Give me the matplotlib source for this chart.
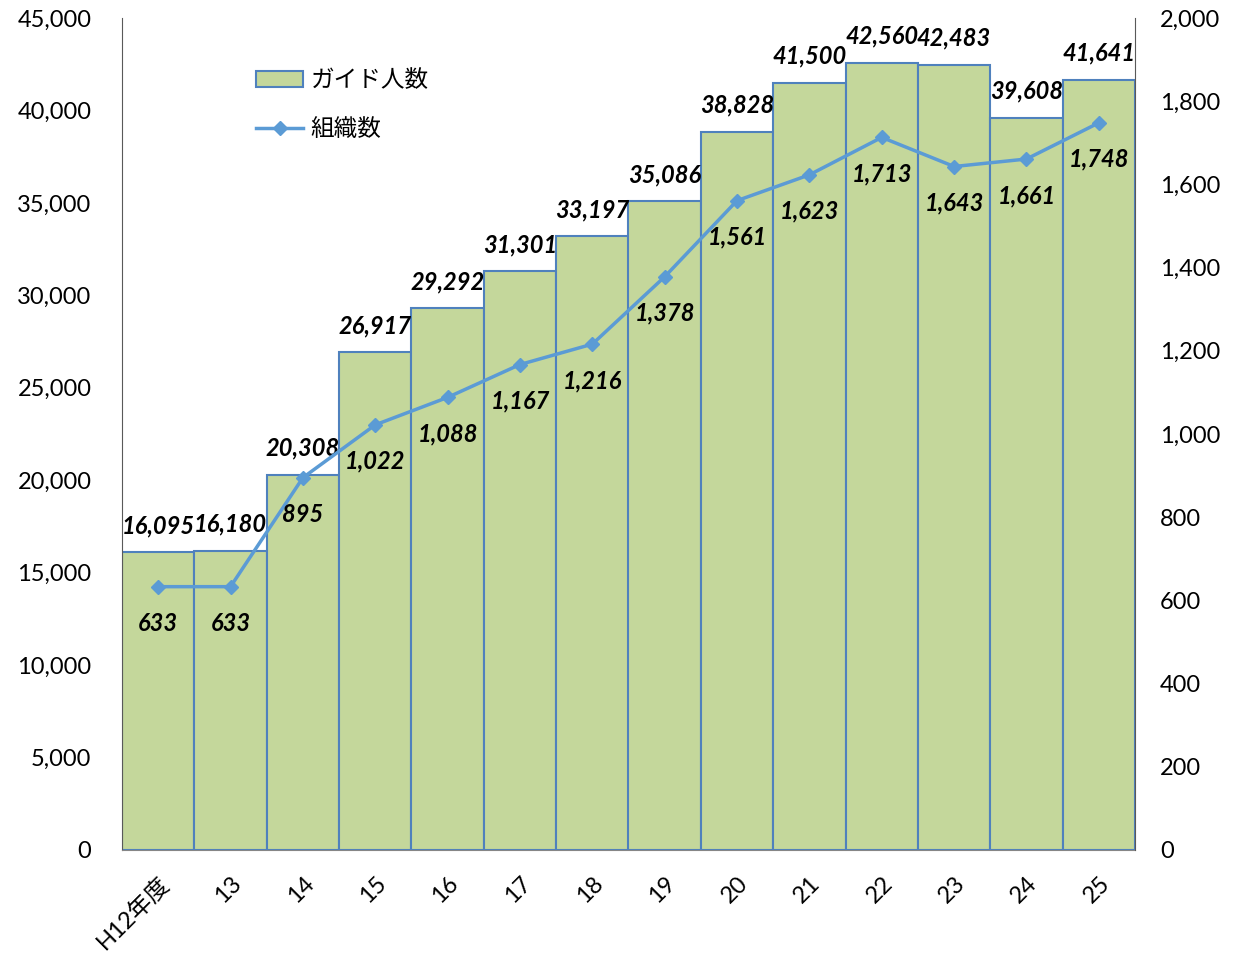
import matplotlib
matplotlib.use("Agg")
import matplotlib.pyplot as plt
from matplotlib.ticker import FuncFormatter, MultipleLocator
from matplotlib.lines import Line2D
from matplotlib.patches import Patch

plt.rcParams['font.family'] = ['Lato', 'Noto Sans CJK JP', 'DejaVu Sans']

categories = ["H12年度", "13", "14", "15", "16", "17", "18", "19", "20", "21", "22", "23", "24", "25"]
guides = [16095, 16180, 20308, 26917, 29292, 31301, 33197, 35086, 38828, 41500, 42560, 42483, 39608, 41641]
orgs = [633, 633, 895, 1022, 1088, 1167, 1216, 1378, 1561, 1623, 1713, 1643, 1661, 1748]

bar_color = "#C4D79B"
edge_color = "#4F81BD"
line_color = "#5B9BD5"

fig = plt.figure(figsize=(12.39, 9.56), dpi=100)
ax = fig.add_axes([122/1239, 1-850/956, (1135-122)/1239, (850-18)/956])
ax2 = ax.twinx()

x = list(range(len(categories)))
ax.bar(x, guides, width=1.0, color=bar_color, edgecolor=edge_color, linewidth=1.5, zorder=2)
ax.set_xlim(-0.5, len(categories)-0.5)
ax.set_ylim(0, 45000)
ax.yaxis.set_major_locator(MultipleLocator(5000))
ax.yaxis.set_major_formatter(FuncFormatter(lambda v, p: f"{int(v):,}"))

ax2.plot(x, orgs, color=line_color, linewidth=2.5, marker="D", markersize=7, zorder=3)
ax2.set_ylim(0, 2000)
ax2.yaxis.set_major_locator(MultipleLocator(200))
ax2.yaxis.set_major_formatter(FuncFormatter(lambda v, p: f"{int(v):,}"))

for a in (ax, ax2):
    a.tick_params(axis='both', length=0, labelsize=17)
    for s in a.spines.values():
        s.set_visible(False)
ax.spines['left'].set_visible(True)
ax.spines['left'].set_color("#595959")
ax.spines['bottom'].set_visible(True)
ax.spines['bottom'].set_color("#868686")
ax2.spines['right'].set_visible(True)
ax2.spines['right'].set_color("#595959")
ax.tick_params(axis='y', pad=22)
ax2.tick_params(axis='y', pad=18)

ax.set_xticks(x)
ax.set_xticklabels(categories, rotation=45, ha='right', va='top', rotation_mode='anchor', fontsize=17)
ax.tick_params(axis='x', pad=16)

for xi, v in zip(x, guides):
    ax.annotate(f"{v:,}", (xi, v), xytext=(0, 11), textcoords='offset points',
                ha='center', va='bottom', fontsize=17, fontweight='bold', fontstyle='italic', zorder=5)
for xi, v in zip(x, orgs):
    ax2.annotate(f"{v:,}", (xi, v), xytext=(0, -18), textcoords='offset points',
                 ha='center', va='top', fontsize=17, fontweight='bold', fontstyle='italic', zorder=5)

handles = [Patch(facecolor=bar_color, edgecolor=edge_color, linewidth=1.5),
           Line2D([0], [0], color=line_color, linewidth=2.5, marker="D", markersize=7)]
fig.legend(handles, ["ガイド人数", "組織数"], loc='upper left', bbox_to_anchor=(235/1239, 1-48/956),
           frameon=False, handlelength=2.0, labelspacing=1.1, handletextpad=0.3,
           prop={'family': ['Noto Sans CJK JP', 'DejaVu Sans'], 'size': 17})

fig.savefig("out.png", dpi=100)
